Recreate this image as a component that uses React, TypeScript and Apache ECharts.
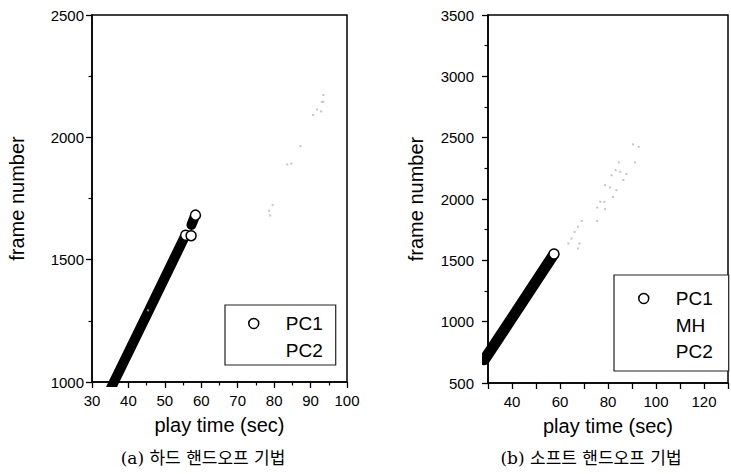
import React, { useEffect, useRef } from "react";
import * as echarts from "echarts";

// ---- Data ----
// (a) hard handoff
const leftXRange = [30, 100];
const leftYRange = [1000, 2500];
const leftPC1Band = [[35.2, 975], [45.7, 1295], [55.4, 1592]];
const leftPC1Cap = [[57.3, 1642], [58.2, 1676]];
const leftPC1Open = [[55.7, 1600], [57.2, 1598], [58.4, 1682]];
const leftPC2 = [
  [93.5, 2173], [93.1, 2145], [93.5, 2145], [91.8, 2114], [92.9, 2106],
  [90.7, 2091], [87.2, 1964], [83.6, 1889], [84.7, 1893], [79.6, 1723],
  [78.6, 1700], [78.9, 1681], [45.4, 1293],
];
// (b) soft handoff
const rightXRange = [30, 130];
const rightYRange = [500, 3500];
const rightPC1Band = [[28.5, 690], [43, 1120], [57.3, 1545]];
const rightPC1Open = [[57.5, 1552]];
const rightMH: number[][] = [];
const rightPC2 = [
  [90.4, 2445], [92.8, 2425], [84.5, 2298], [91.2, 2298], [83.2, 2235],
  [85.1, 2221], [87.7, 2203], [81.5, 2194], [86.4, 2154], [78.8, 2113],
  [80.8, 2094], [83.5, 2072], [82.1, 2017], [76.8, 1977], [78.5, 1977],
  [75.5, 1931], [78.8, 1917], [69.1, 1821], [75.5, 1821], [67.5, 1773],
  [66.1, 1732], [64.8, 1678], [68.1, 1637], [63.5, 1637], [67.5, 1596],
];
const captionA = "(a) 하드 핸드오프 기법";
const captionB = "(b) 소프트 핸드오프 기법";
const xName = "play time (sec)";
const yName = "frame number";

const SANS = "'Liberation Sans', Arial, Helvetica, sans-serif";
const SERIF = "'DejaVu Serif', 'Liberation Serif', 'Noto Sans CJK KR', serif";

function axisBase() {
  return {
    axisLine: { show: true, onZero: false, lineStyle: { color: "#000", width: 1.5 } },
    axisTick: { show: true, inside: false, length: 6, lineStyle: { color: "#000", width: 1.3 } },
    minorTick: { show: true, splitNumber: 2, length: 3.5, lineStyle: { color: "#000", width: 1.2 } },
    splitLine: { show: false },
    minorSplitLine: { show: false },
    axisLabel: { color: "#000", fontSize: 15, fontFamily: SANS, formatter: (v: number) => String(v) },
    nameTextStyle: { color: "#000", fontSize: 20, fontFamily: SANS },
  };
}

const openCircle = { color: "#fff", borderColor: "#000", borderWidth: 1.5, opacity: 1 };
const hidden = { color: "transparent", borderColor: "transparent", borderWidth: 0 };
const legendText = { color: "#000", fontSize: 19, lineHeight: 18, fontFamily: SANS, padding: [0, 0, 0, 22] };

export default function App() {
  const ref = useRef<HTMLDivElement>(null);
  useEffect(() => {
    document.body.style.margin = "0";
    if (!ref.current) return;
    const chart = echarts.init(ref.current, undefined, { renderer: "svg" });
    const b = axisBase();
    const option: any = {
      animation: false,
      backgroundColor: "#fff",
      textStyle: { fontFamily: SANS },
      grid: [
        { left: 92, top: 15, width: 255, height: 367, show: true, borderColor: "#000", borderWidth: 1.5, containLabel: false },
        { left: 488, top: 15, width: 250, height: 368, show: true, borderColor: "#000", borderWidth: 1.5, containLabel: false },
      ],
      xAxis: [
        {
          ...b, type: "value", gridIndex: 0, min: leftXRange[0], max: leftXRange[1], interval: 10,
          axisLabel: { ...b.axisLabel, margin: 11 },
          name: xName, nameLocation: "middle", nameGap: 33,
        },
        {
          ...b, type: "value", gridIndex: 1, min: rightXRange[0], max: rightXRange[1], interval: 10,
          minorTick: { show: false },
          axisLabel: { ...b.axisLabel, margin: 11, formatter: (v: number) => (v % 20 === 0 ? String(v) : "") },
          name: xName, nameLocation: "middle", nameGap: 33,
        },
      ],
      yAxis: [
        {
          ...b, type: "value", gridIndex: 0, min: leftYRange[0], max: leftYRange[1], interval: 500,
          axisLabel: { ...b.axisLabel, margin: 8 },
          name: yName, nameLocation: "middle", nameGap: 65,
        },
        {
          ...b, type: "value", gridIndex: 1, min: rightYRange[0], max: rightYRange[1], interval: 500,
          axisLabel: { ...b.axisLabel, margin: 14 },
          name: yName, nameLocation: "middle", nameGap: 62,
        },
      ],
      legend: [
        {
          left: 225, top: 305, orient: "vertical", align: "left",
          itemWidth: 10, itemHeight: 10, itemGap: 8,
          padding: [9, 13, 5, 23],
          borderColor: "#222", borderWidth: 1.2, backgroundColor: "#fff",
          textStyle: legendText,
          data: [
            { name: "PC1", icon: "circle", itemStyle: openCircle },
            { name: "PC2", icon: "circle", itemStyle: hidden },
          ],
        },
        {
          left: 614, top: 275, orient: "vertical", align: "left",
          itemWidth: 10, itemHeight: 10, itemGap: 7.5,
          padding: [14, 16, 10, 24],
          borderColor: "#222", borderWidth: 1.2, backgroundColor: "#fff",
          textStyle: legendText,
          data: [
            { name: "PC1", icon: "circle", itemStyle: openCircle },
            { name: "MH", icon: "circle", itemStyle: hidden },
            { name: "PC2", icon: "circle", itemStyle: hidden },
          ],
        },
      ],
      series: [
        { name: "PC1", type: "line", xAxisIndex: 0, yAxisIndex: 0, data: leftPC1Band, symbol: "none", showSymbol: false, clip: true, lineStyle: { color: "#000", width: 10, cap: "round" }, z: 2 },
        { name: "PC1", type: "line", xAxisIndex: 0, yAxisIndex: 0, data: leftPC1Cap, symbol: "none", showSymbol: false, clip: true, lineStyle: { color: "#000", width: 10, cap: "round" }, z: 2 },
        { name: "PC2", type: "scatter", xAxisIndex: 0, yAxisIndex: 0, data: leftPC2, symbol: "rect", symbolSize: 2, itemStyle: { color: "#b5b5b5" }, z: 4 },
        { name: "PC1", type: "scatter", xAxisIndex: 0, yAxisIndex: 0, data: leftPC1Open, symbol: "circle", symbolSize: 10, itemStyle: openCircle, z: 3 },
        { name: "PC1", type: "line", xAxisIndex: 1, yAxisIndex: 1, data: rightPC1Band, symbol: "none", showSymbol: false, clip: true, lineStyle: { color: "#000", width: 11, cap: "round" }, z: 2 },
        { name: "PC1", type: "scatter", xAxisIndex: 1, yAxisIndex: 1, data: rightPC1Open, symbol: "circle", symbolSize: 10, itemStyle: openCircle, z: 3 },
        { name: "MH", type: "scatter", xAxisIndex: 1, yAxisIndex: 1, data: rightMH, symbolSize: 4, itemStyle: { color: "#fff" } },
        { name: "PC2", type: "scatter", xAxisIndex: 1, yAxisIndex: 1, data: rightPC2, symbol: "rect", symbolSize: 2, itemStyle: { color: "#b5b5b5" }, z: 4 },
      ],
      graphic: [
        { type: "text", x: 203, y: 458, style: { text: captionA, fontSize: 17, fontFamily: SERIF, fill: "#000", align: "center", verticalAlign: "middle" } },
        { type: "text", x: 591, y: 458, style: { text: captionB, fontSize: 17, fontFamily: SERIF, fill: "#000", align: "center", verticalAlign: "middle" } },
      ],
    };
    chart.setOption(option);
    return () => chart.dispose();
  }, []);
  return <div ref={ref} style={{ width: 731, height: 474 }} />;
}
